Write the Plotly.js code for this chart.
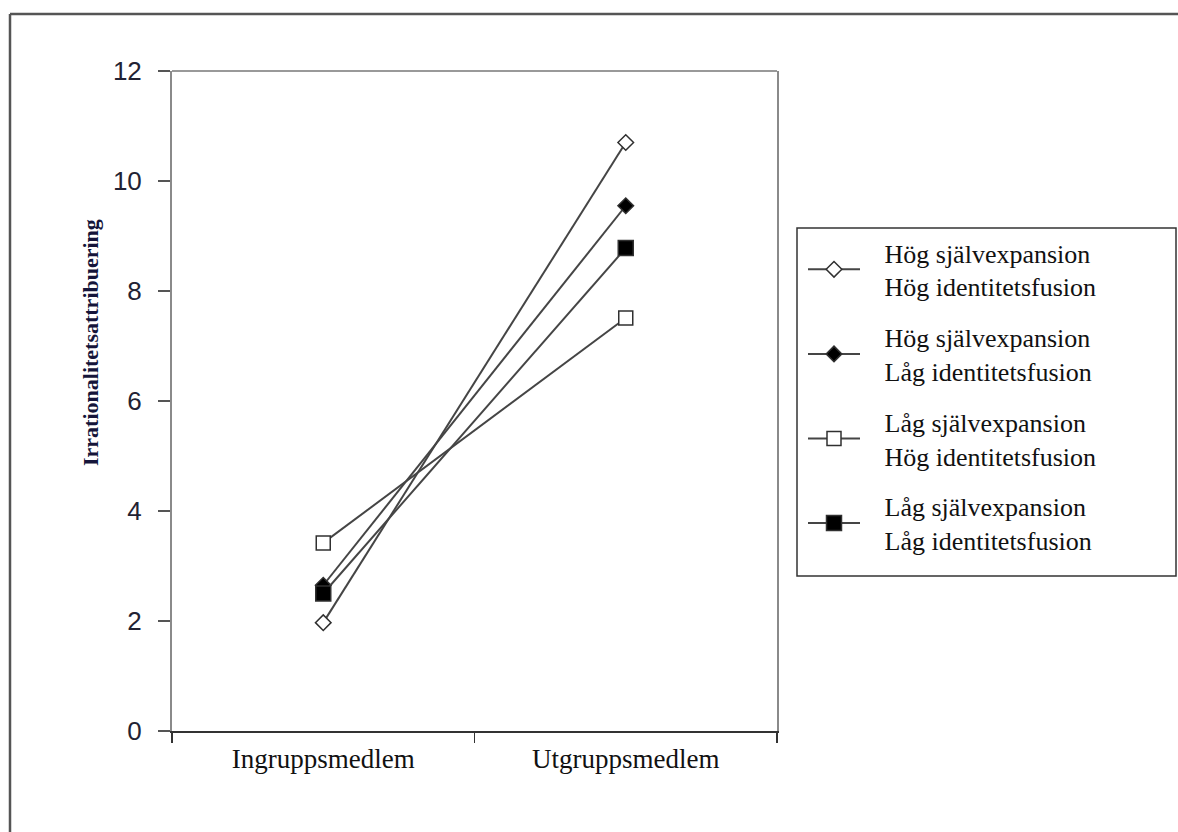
<!DOCTYPE html>
<html>
<head>
<meta charset="utf-8">
<script src="https://cdn.plot.ly/plotly-3.0.1.min.js"></script>
<style>
html,body{margin:0;padding:0;background:#fff;}
#chart{width:1178px;height:832px;}
</style>
</head>
<body>
<div id="chart"></div>
<script>
const categories = ["Ingruppsmedlem", "Utgruppsmedlem"];
const seriesLines = [
  ["Hög självexpansion", "Hög identitetsfusion"],
  ["Hög självexpansion", "Låg identitetsfusion"],
  ["Låg självexpansion", "Hög identitetsfusion"],
  ["Låg självexpansion", "Låg identitetsfusion"]
];
const hogHog = [1.97, 10.70];
const hogLag = [2.65, 9.55];
const lagHog = [3.42, 7.51];
const lagLag = [2.50, 8.78];
const yTicks = [0, 2, 4, 6, 8, 10, 12];
const yTitle = "Irrationalitetsattribuering";

const pad = "\u00a0\u00a0\u00a0";
const seriesNames = seriesLines.map(l => pad + l[0] + "<br>" + pad + l[1]);

const lineColor = "#454545";
function trace(name, y, symbol, fill, size, group) {
  return {
    type: "scatter", mode: "lines+markers", x: categories, y: y, name: name,
    legendgroup: group,
    line: {color: lineColor, width: 2},
    marker: {symbol: symbol, size: size, color: fill, line: {color: "#303030", width: 1.5}}
  };
}
const data = [
  trace(seriesNames[0], hogHog, "diamond", "#ffffff", 12, "a"),
  trace(seriesNames[1], hogLag, "diamond", "#000000", 12, "b"),
  trace(seriesNames[2], lagHog, "square", "#ffffff", 14, "c"),
  trace(seriesNames[3], lagLag, "square", "#000000", 15, "d")
];

const L = 172, R = 777, T = 71, B = 731, W = 1178, H = 832;
const px = v => (v - L) / (R - L);
const py = v => (B - v) / (B - T);

const layout = {
  width: W, height: H,
  margin: {l: L, r: W - R, t: T, b: H - B, pad: 0},
  paper_bgcolor: "#ffffff", plot_bgcolor: "#ffffff",
  showlegend: true,
  legend: {
    x: px(803), xanchor: "left", y: py(229), yanchor: "top",
    bgcolor: "rgba(0,0,0,0)", borderwidth: 0,
    font: {family: "Liberation Serif, Times New Roman, serif", size: 26, color: "#111111"},
    itemwidth: 52, tracegroupgap: 14, traceorder: "grouped"
  },
  xaxis: {
    type: "category", range: [-0.5, 1.5],
    tickson: "boundaries", ticks: "outside", ticklen: 10, tickwidth: 1.5, tickcolor: "#333333",
    showline: true, linecolor: "#333333", linewidth: 2, mirror: false,
    showgrid: false, zeroline: false,
    tickfont: {family: "Liberation Serif, Times New Roman, serif", size: 27, color: "#111111"},
    ticklabelstandoff: 3
  },
  yaxis: {
    range: [0, 12], tickvals: yTicks, ticktext: yTicks.map(String),
    ticks: "outside", ticklen: 12, tickwidth: 1.5, tickcolor: "#555555",
    showline: true, linecolor: "#8a8a8a", linewidth: 2, mirror: true,
    showgrid: false, zeroline: false,
    tickfont: {family: "Liberation Sans, Arial, sans-serif", size: 26, color: "#222233"},
    ticklabelstandoff: 11
  },
  annotations: [{
    text: "<b>" + yTitle + "</b>", textangle: -90,
    xref: "paper", yref: "paper", x: px(90), y: py(343), xanchor: "center", yanchor: "middle",
    showarrow: false,
    font: {family: "Liberation Serif, Times New Roman, serif", size: 22, color: "#15153a"}
  }],
  shapes: [
    {type: "line", xref: "paper", yref: "paper", x0: 0, x1: 1, y0: 1, y1: 1, line: {color: "#999999", width: 2}},
    {type: "rect", xref: "paper", yref: "paper", x0: px(797), x1: px(1176), y0: py(576), y1: py(228), line: {color: "#333333", width: 1.5}},
    {type: "line", xref: "paper", yref: "paper", x0: px(10), x1: px(1178), y0: py(14), y1: py(14), line: {color: "#555555", width: 2.5}},
    {type: "line", xref: "paper", yref: "paper", x0: px(10), x1: px(10), y0: py(14), y1: py(832), line: {color: "#555555", width: 2.5}}
  ]
};

Plotly.newPlot("chart", data, layout, {displayModeBar: false, staticPlot: true});
</script>
</body>
</html>
